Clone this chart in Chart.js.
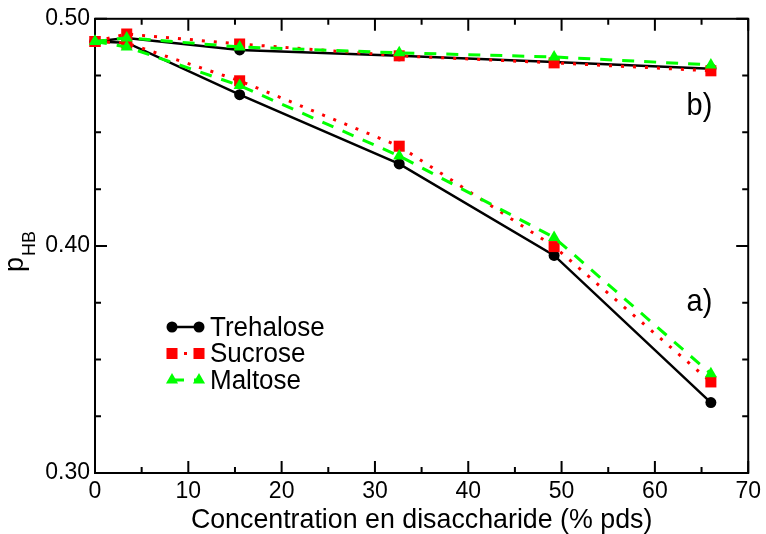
<!DOCTYPE html>
<html>
<head>
<meta charset="utf-8">
<script src="https://cdn.jsdelivr.net/npm/chart.js@4/dist/chart.umd.min.js"></script>
<style>
	html, body { margin: 0; padding: 0; background: #fff; }
	#wrap { width: 766px; height: 534px; position: relative; }
</style>
</head>
<body>
<div id="wrap"><canvas id="phb-canvas"></canvas></div>
<script>
const concentration = [0, 3.4, 15.5, 32.6, 49.2, 66];

// a) curves
const trehaloseA = [0.490, 0.4895, 0.4666, 0.4361, 0.3958, 0.331];
const sucroseA = [0.490, 0.4893, 0.4727, 0.4439, 0.3997, 0.3401];
const maltoseA = [0.490, 0.4876, 0.4706, 0.4396, 0.4037, 0.3437];

// b) curves
const trehaloseB = [0.490, 0.4915, 0.4863, 0.4837, 0.481, 0.478];
const sucroseB = [0.490, 0.4933, 0.4889, 0.4837, 0.4806, 0.4771];
const maltoseB = [0.490, 0.4916, 0.4876, 0.485, 0.4832, 0.4797];

const seriesNames = ["Trehalose", "Sucrose", "Maltose"];
const xTitle = "Concentration en disaccharide (% pds)";
const curveLabels = [
	{ text: "a)", x: 63.4, y: 0.3712 },
	{ text: "b)", x: 63.4, y: 0.4576 },
];

const FONT = "'Liberation Sans', Arial, sans-serif";

const styles = {
	Trehalose: { color: "#000000", width: 2.5, dash: [], point: "circle", radius: 5.5, order: 3 },
	Sucrose: { color: "#ff0000", width: 3, dash: [3, 9], point: "rect", radius: 7.8, order: 2 },
	Maltose: { color: "#00ff00", width: 3, dash: [12, 10], point: "triangle", radius: 7, order: 1 },
};

function makeSet(name, values) {
	const s = styles[name];
	return {
		label: name,
		data: concentration.map((x, i) => ({ x: x, y: values[i] })),
		borderColor: s.color,
		borderWidth: s.width,
		borderDash: s.dash,
		pointStyle: s.point,
		pointRadius: s.radius,
		pointBackgroundColor: s.color,
		pointBorderWidth: 0,
		tension: 0,
		fill: false,
		clip: false,
		order: s.order,
	};
}

// text in the reference is a bit taller than wide
function tallText(ctx, text, x, y, sy) {
	ctx.save();
	ctx.translate(x, y);
	ctx.scale(1, sy);
	ctx.fillText(text, 0, 0);
	ctx.restore();
}

// frame + inward ticks on all four sides
const framePlugin = {
	id: "frame",
	beforeDatasetsDraw(chart) {
		const { ctx, chartArea: a, scales } = chart;
		ctx.save();
		ctx.strokeStyle = "#000";
		ctx.lineWidth = 2;
		ctx.strokeRect(a.left, a.top, a.right - a.left, a.bottom - a.top);
		ctx.beginPath();
		for (let v = 0; v <= 70; v += 5) {
			const px = scales.x.getPixelForValue(v);
			const len = v % 10 === 0 ? 12 : 6;
			ctx.moveTo(px, a.bottom); ctx.lineTo(px, a.bottom - len);
			ctx.moveTo(px, a.top); ctx.lineTo(px, a.top + len);
		}
		for (let k = 0; k <= 8; k++) {
			const v = 0.30 + k * 0.025;
			const py = scales.y.getPixelForValue(v);
			const len = k % 4 === 0 ? 12 : 6;
			ctx.moveTo(a.left, py); ctx.lineTo(a.left + len, py);
			ctx.moveTo(a.right, py); ctx.lineTo(a.right - len, py);
		}
		ctx.stroke();
		ctx.restore();
	},
	afterDraw(chart) {
		const { ctx, chartArea: a, scales } = chart;
		ctx.save();
		ctx.fillStyle = "#000";

		// x title
		ctx.font = "26px " + FONT;
		ctx.textAlign = "center";
		ctx.textBaseline = "alphabetic";
		ctx.save();
		ctx.translate((a.left + a.right) / 2, 528);
		ctx.scale(1.03, 1.08);
		ctx.fillText(xTitle, 0, 0);
		ctx.restore();

		// y title p_HB
		ctx.save();
		ctx.translate(23, 272);
		ctx.rotate(-Math.PI / 2);
		ctx.textAlign = "left";
		ctx.font = "27px " + FONT;
		ctx.fillText("p", 0, 0);
		const pw = ctx.measureText("p").width;
		ctx.font = "18px " + FONT;
		ctx.fillText("HB", pw + 1, 12);
		ctx.restore();

		// a) / b)
		ctx.font = "29px " + FONT;
		ctx.textAlign = "left";
		curveLabels.forEach(l => {
			tallText(ctx, l.text, scales.x.getPixelForValue(l.x), scales.y.getPixelForValue(l.y), 1.08);
		});

		// legend
		const rows = chart.data.datasets.filter(d => d.showInLegend);
		rows.forEach((d, i) => {
			const y = 327 + i * 26.5;
			const x0 = 172, x1 = 199;
			ctx.save();
			ctx.strokeStyle = d.borderColor;
			ctx.lineWidth = d.borderWidth;
			ctx.setLineDash(d.borderDash);
			ctx.beginPath();
			ctx.moveTo(x0, y); ctx.lineTo(x1, y);
			ctx.stroke();
			ctx.restore();
			[x0, x1].forEach(px => {
				ctx.save();
				ctx.fillStyle = d.pointBackgroundColor;
				Chart.helpers.drawPoint(ctx, { pointStyle: d.pointStyle, radius: d.pointRadius, borderWidth: 0, rotation: 0 }, px, y);
				ctx.restore();
			});
			ctx.font = "26px " + FONT;
			ctx.textBaseline = "middle";
			ctx.textAlign = "left";
			tallText(ctx, d.label, 210, y + 1, 1.06);
		});
		ctx.restore();
	},
};

const sets = [
	makeSet("Trehalose", trehaloseA),
	makeSet("Sucrose", sucroseA),
	makeSet("Maltose", maltoseA),
	makeSet("Trehalose", trehaloseB),
	makeSet("Sucrose", sucroseB),
	makeSet("Maltose", maltoseB),
];
sets.slice(0, 3).forEach(s => (s.showInLegend = true));

new Chart(document.getElementById("phb-canvas").getContext("2d"), {
	type: "line",
	data: { datasets: sets },
	options: {
		responsive: true,
		maintainAspectRatio: false,
		animation: false,
		layout: { padding: { top: 15, right: 17, left: 0, bottom: 0 } },
		plugins: {
			legend: { display: false },
			tooltip: { enabled: false },
		},
		scales: {
			x: {
				type: "linear",
				min: 0,
				max: 70,
				border: { display: false },
				grid: { display: false, drawTicks: false },
				ticks: {
					stepSize: 10,
					padding: 5,
					color: "#000",
					font: { family: FONT, size: 23 },
					maxRotation: 0,
				},
				afterFit: s => { s.height = 61; },
			},
			y: {
				type: "linear",
				min: 0.30,
				max: 0.50,
				border: { display: false },
				grid: { display: false, drawTicks: false },
				ticks: {
					stepSize: 0.1,
					padding: 5,
					color: "#000",
					font: { family: FONT, size: 23 },
					callback: v => v.toFixed(2),
				},
				afterFit: s => { s.width = 95; },
			},
		},
	},
	plugins: [framePlugin],
});
</script>
</body>
</html>
